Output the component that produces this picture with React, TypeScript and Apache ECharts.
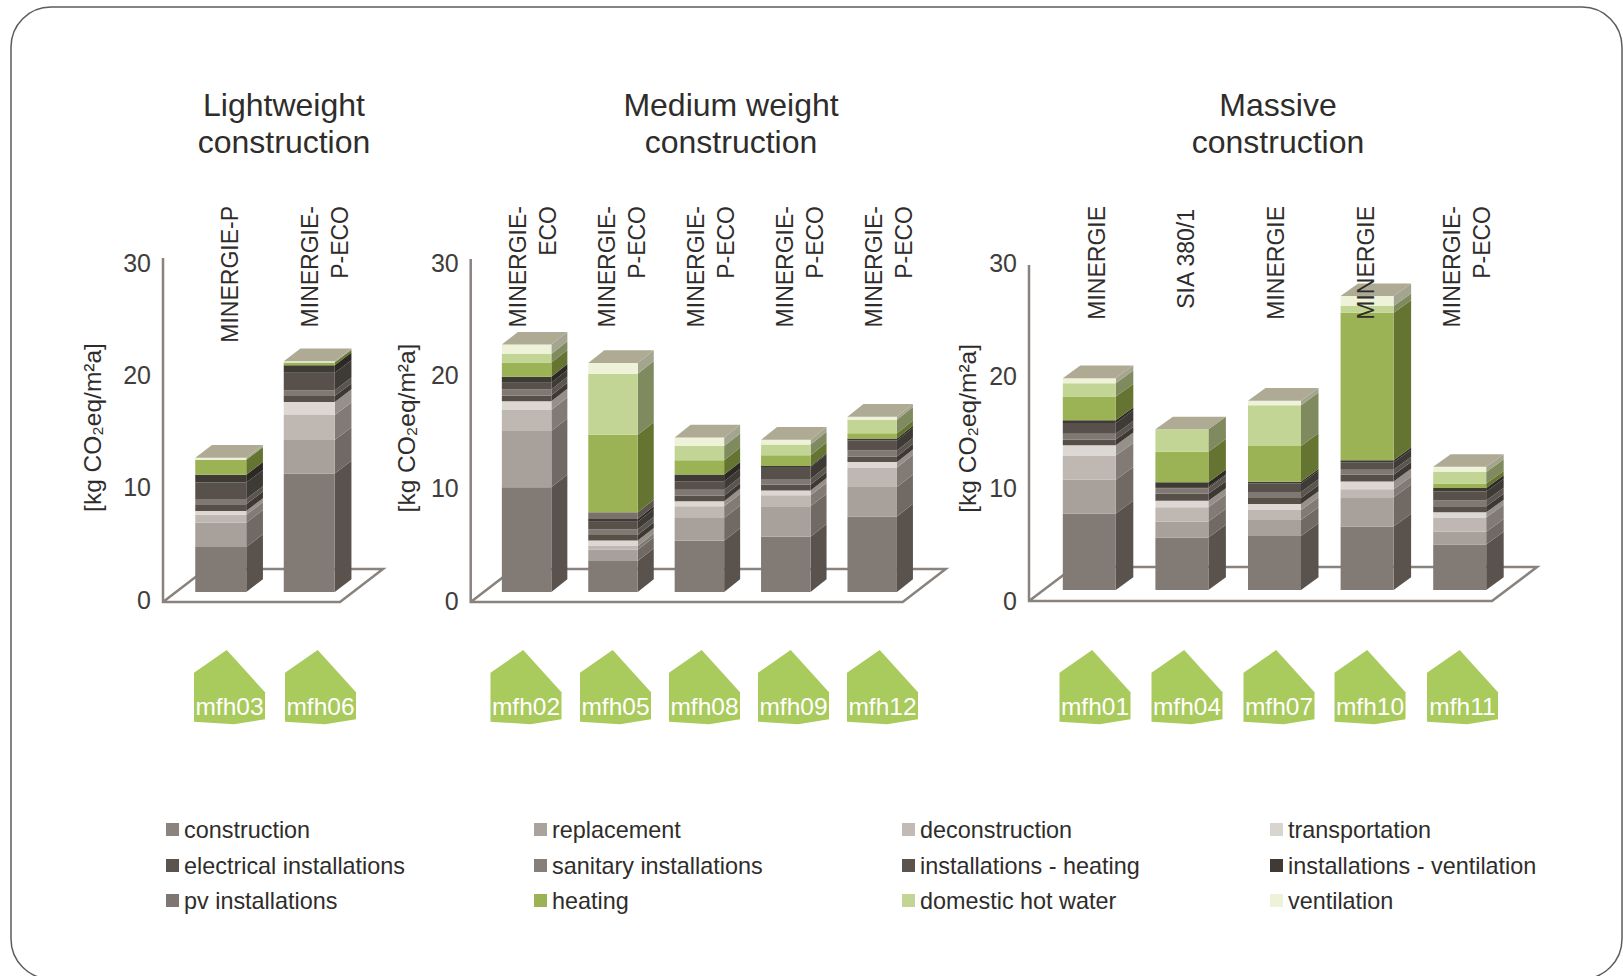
import React, { useEffect, useRef } from "react";
import * as echarts from "echarts";

const FONT = '"Liberation Sans", Arial, sans-serif';
const TEXT = "#2f2d2b";

const components = [
  "construction", "replacement", "deconstruction", "transportation",
  "electrical installations", "sanitary installations", "installations - heating", "installations - ventilation",
  "pv installations", "heating", "domestic hot water", "ventilation",
];
const frontColors = [
  "#827a75", "#a8a09a", "#bfb7b1", "#dcd7d2",
  "#575049", "#7f7873", "#57504b", "#3e3a34",
  "#7a726a", "#9bb355", "#c3d595", "#eef2d8",
];
const sideColors = [
  "#5a534d", "#716a64", "#827b75", "#96908a",
  "#3e3833", "#5b554f", "#3e3a36", "#2c2924",
  "#5a544c", "#667431", "#7f8a5e", "#a3a58f",
];
const TOP_COLOR = "#aeaa93";
const legendColors = [
  "#8b837e", "#aaa29c", "#c2bab4", "#d8d4cf",
  "#5a534e", "#867e79", "#5a534e", "#3f3a36",
  "#7f7671", "#9bb355", "#c3d595", "#eef2d8",
];

// Per-building contributions, in the order of `components`
const mfh03 = [4.0, 2.17, 0.7, 0.35, 0.6, 0.47, 1.45, 0.7, 0, 1.33, 0, 0.18];
const mfh06 = [10.56, 2.97, 2.22, 1.16, 0.53, 0.53, 1.54, 0.68, 0, 0.24, 0, 0.12];
const mfh02 = [9.29, 4.99, 1.87, 0.77, 0.53, 0.53, 0.6, 0.53, 0, 1.25, 0.77, 0.83];
const mfh05 = [2.76, 0.98, 0.35, 0.47, 0.5, 0.5, 0.68, 0.24, 0.59, 6.88, 5.43, 0.95];
const mfh08 = [4.54, 2.02, 1.04, 0.45, 0.5, 0.53, 0.74, 0.6, 0, 1.28, 1.25, 0.77];
const mfh09 = [4.9, 2.7, 0.98, 0.42, 0.53, 0.5, 1.07, 0.09, 0, 0.95, 0.95, 0.42];
const mfh12 = [6.7, 2.61, 1.75, 0.47, 0.5, 0.53, 0.89, 0.18, 0, 0.47, 1.19, 0.27];
const mfh01 = [6.8, 3.0, 2.14, 0.92, 0.5, 0.53, 0.95, 0.24, 0, 2.1, 1.19, 0.45];
const mfh04 = [4.66, 1.42, 1.28, 0.56, 0.62, 0.5, 0.12, 0.42, 0, 2.7, 1.99, 0];
const mfh07 = [4.8, 1.42, 0.89, 0.53, 0.53, 0.53, 0.77, 0.15, 0, 3.18, 3.62, 0.39];
const mfh10 = [5.64, 2.61, 0.71, 0.68, 0.6, 0.45, 0.65, 0.18, 0, 13.1, 0.6, 0.89];
const mfh11 = [4.04, 1.13, 1.28, 0.45, 0.53, 0.53, 0.8, 0.3, 0, 0.39, 1.04, 0.45];

const yTicks = { min: 0, max: 30, interval: 10 };

const panels = [
  {
    title: "Lightweight\nconstruction", titleX: 279,
    names: ["mfh03", "mfh06"], values: [mfh03, mfh06],
    ratings: ["MINERGIE-P", "MINERGIE-\nP-ECO"],
    axisX: 163, floorW: 177, floorY: 602, axisTopY: 258, zeroY: 599.5, topY: 262.5,
    baseLift: 7.5, barW: 51, barShift: 13.5, depthX: 16.7, depthY: 12.7, backX: 43, backY: 33,
    ratingX: [230, 324.7], ratingTop: [206, 206], houseX: [194, 285], nameGap: 58,
  },
  {
    title: "Medium weight\nconstruction", titleX: 726,
    names: ["mfh02", "mfh05", "mfh08", "mfh09", "mfh12"], values: [mfh02, mfh05, mfh08, mfh09, mfh12],
    ratings: ["MINERGIE-\nECO", "MINERGIE-\nP-ECO", "MINERGIE-\nP-ECO", "MINERGIE-\nP-ECO", "MINERGIE-\nP-ECO"],
    axisX: 470.7, floorW: 432, floorY: 602, axisTopY: 259, zeroY: 600.5, topY: 262.5,
    baseLift: 8.5, barW: 49.5, barShift: 12.7, depthX: 16, depthY: 12.7, backX: 43, backY: 33,
    ratingX: [533, 622, 711, 800, 889], ratingTop: [206, 206, 206, 206, 206], houseX: [490.5, 580, 669, 758, 847], nameGap: 52,
  },
  {
    title: "Massive\nconstruction", titleX: 1273,
    names: ["mfh01", "mfh04", "mfh07", "mfh10", "mfh11"], values: [mfh01, mfh04, mfh07, mfh10, mfh11],
    ratings: ["MINERGIE", "SIA 380/1", "MINERGIE", "MINERGIE", "MINERGIE-\nP-ECO"],
    axisX: 1029, floorW: 463, floorY: 601, axisTopY: 265, zeroY: 600.7, topY: 263,
    baseLift: 10.7, barW: 53, barShift: 14, depthX: 17.5, depthY: 12.7, backX: 45, backY: 34,
    ratingX: [1097, 1186, 1276, 1366, 1467], ratingTop: [206, 209, 206, 206, 206], houseX: [1059.5, 1151.5, 1243.5, 1334.5, 1427], nameGap: 49,
  },
];

const legendCols = [166, 534, 902, 1270];
const legendRows = [831, 867, 902];

const LINE = "#8a827d";
// Outline of the house badge, relative to its top-left reference corner
const houseOutline = [[0, 22.7], [32.7, 0], [71, 42.3], [71, 69.3], [40, 74.3], [0, 71.7]];

// Front, side and (for the highest layer) top faces of one stacked layer
function stackFaces(panel: any, layer: number, api: any) {
  const i = api.value(0);
  const c0 = api.coord([i, api.value(1)]);
  const c1 = api.coord([i, api.value(2)]);
  const isTop = api.value(3) === 1;
  const left = c0[0] + panel.barShift - panel.barW / 2;
  const right = left + panel.barW;
  const yLow = c0[1] - panel.baseLift;
  const yHigh = c1[1] - panel.baseLift;
  const dx = panel.depthX;
  const dy = panel.depthY;
  const children: any[] = [
    {
      type: "polygon",
      shape: { points: [[right, yLow], [right + dx, yLow - dy], [right + dx, yHigh - dy], [right, yHigh]] },
      style: { fill: sideColors[layer] },
    },
    {
      type: "rect",
      shape: { x: left, y: yHigh, width: panel.barW, height: yLow - yHigh },
      style: { fill: frontColors[layer] },
    },
  ];
  if (isTop) {
    children.push({
      type: "polygon",
      shape: { points: [[left, yHigh], [right, yHigh], [right + dx, yHigh - dy], [left + dx, yHigh - dy]] },
      style: { fill: TOP_COLOR },
    });
  }
  return { type: "group", children };
}

function buildOption() {
  const grid: any[] = [];
  const xAxis: any[] = [];
  const yAxis: any[] = [];
  const series: any[] = [];
  const title: any[] = [];
  const graphic: any[] = [
    {
      type: "rect", z: 0, silent: true,
      shape: { x: 11, y: 7, width: 1611, height: 972, r: 40 },
      style: { fill: "#ffffff", stroke: "#5c5c5c", lineWidth: 1.5 },
    },
  ];

  panels.forEach((panel, p) => {
    grid.push({ left: panel.axisX, width: panel.floorW, top: panel.topY, height: panel.zeroY - panel.topY });
    xAxis.push({
      gridIndex: p, type: "category", data: panel.names,
      axisLine: { show: false }, axisTick: { show: false }, axisLabel: { show: false }, splitLine: { show: false },
    });
    yAxis.push({
      gridIndex: p, type: "value", ...yTicks,
      name: "[kg CO₂eq/m²a]", nameLocation: "middle", nameGap: panel.nameGap,
      nameTextStyle: { fontFamily: FONT, fontSize: 24.5, color: TEXT, padding: [0, 0, 0, 7] },
      axisLine: { show: false }, axisTick: { show: false }, splitLine: { show: false },
      axisLabel: { fontFamily: FONT, fontSize: 25, color: "#403d3a", margin: 12 },
    });
    title.push({
      text: panel.title, left: panel.titleX, top: 81, textAlign: "center",
      textStyle: { fontFamily: FONT, fontSize: 32, fontWeight: "normal", color: TEXT, lineHeight: 37 },
    });

    const ox = panel.axisX;
    const oy = panel.floorY;
    graphic.push({
      type: "polyline", z: 1, silent: true,
      shape: {
        points: [
          [ox, panel.axisTopY], [ox, oy], [ox + panel.floorW, oy],
          [ox + panel.floorW + panel.backX, oy - panel.backY], [ox + panel.backX, oy - panel.backY], [ox, oy],
        ],
      },
      style: { fill: "none", stroke: LINE, lineWidth: 2.5 },
    });

    panel.ratings.forEach((text, i) => {
      graphic.push({
        type: "text", z: 100, silent: true,
        x: panel.ratingX[i], y: panel.ratingTop[i], rotation: Math.PI / 2,
        style: { text, align: "right", verticalAlign: "middle", fontFamily: FONT, fontSize: 23, lineHeight: 30, fill: TEXT },
      });
    });

    panel.names.forEach((name, i) => {
      const hx = panel.houseX[i];
      graphic.push({
        type: "polygon", z: 1, silent: true,
        shape: { points: houseOutline.map(([x, y]) => [hx + x, 650 + y]) },
        style: { fill: "#a9ca5c" },
      });
      graphic.push({
        type: "text", z: 2, silent: true, x: hx + 35.5, y: 706,
        style: { text: name, align: "center", verticalAlign: "middle", fontFamily: FONT, fontSize: 24.5, fill: "#ffffff" },
      });
    });

    components.forEach((component, c) => {
      const data = panel.values.map((bar, i) => {
        const start = bar.slice(0, c).reduce((a, b) => a + b, 0);
        const topIdx = bar.reduce((last, v, k) => (v > 0 ? k : last), 0);
        return [i, start, start + bar[c], c === topIdx ? 1 : 0];
      });
      series.push({
        name: component, type: "custom", coordinateSystem: "cartesian2d",
        xAxisIndex: p, yAxisIndex: p, z: 3,
        itemStyle: { color: legendColors[c] },
        encode: { x: 0, y: [1, 2] }, clip: false, silent: true,
        data: data.filter((d, i) => panel.values[i][c] > 0),
        renderItem: (params: any, api: any) => stackFaces(panel, c, api),
      });
    });
  });

  const legend = components.map((name, c) => ({
    data: [name], icon: "rect", itemWidth: 13, itemHeight: 13, selectedMode: false,
    left: legendCols[c % 4], top: legendRows[Math.floor(c / 4)] - 13, padding: 0, itemGap: 0,
    textStyle: { fontFamily: FONT, fontSize: 23.4, color: TEXT },
  }));

  return { animation: false, backgroundColor: "#ffffff", grid, xAxis, yAxis, series, title, legend, graphic };
}

export default function App() {
  const ref = useRef<HTMLDivElement>(null);
  useEffect(() => {
    const chart = echarts.init(ref.current!, undefined, { renderer: "svg" });
    chart.setOption(buildOption() as any);
    return () => chart.dispose();
  }, []);
  return <div ref={ref} style={{ position: "fixed", left: 0, top: 0, width: 1623, height: 976 }} />;
}
